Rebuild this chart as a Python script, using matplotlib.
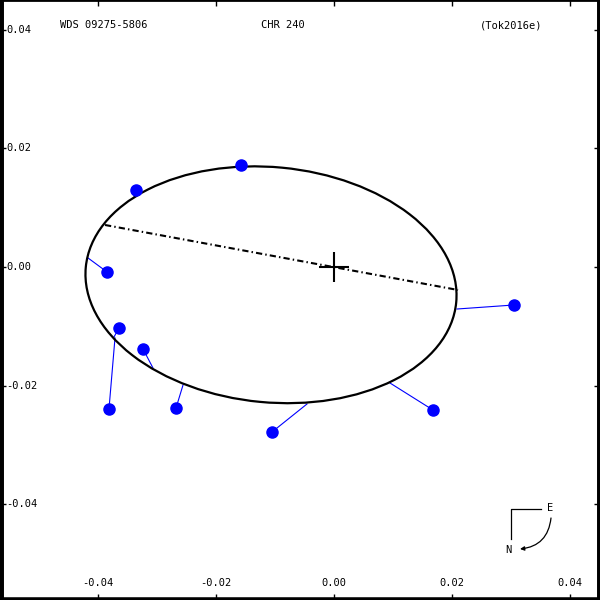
import numpy as np
import matplotlib
matplotlib.use('Agg')
from matplotlib import pyplot as plt
from matplotlib.patches import Ellipse

plt.rcParams['font.family'] = ['DejaVu Sans Mono']

# observed positions (blue dots)
obs_x = [-0.01576, -0.03356, -0.03847, -0.03644, -0.03814,
         -0.03237, -0.02678, -0.01051, 0.01678, 0.03051]
obs_y = [0.01722, 0.01300, -0.00084, -0.01030, -0.02397,
         -0.01384, -0.02380, -0.02785, -0.02414, -0.00641]
# predicted positions on the orbit (end of residual lines)
pred_x = [-0.01576, -0.03390, -0.04169, -0.03729, -0.03712,
          -0.03068, -0.02559, -0.00458, 0.00949, 0.02085]
pred_y = [0.01654, 0.01181, 0.00152, -0.01181, -0.01198,
          -0.01705, -0.01992, -0.02312, -0.01958, -0.00709]

# apparent orbit
orb_cx, orb_cy = -0.01068, -0.00300
orb_a, orb_b = 0.03153, 0.01985
orb_angle = -5.4

# line of nodes
node_x = [-0.03881, 0.02102]
node_y = [0.00709, -0.00388]

xticks = [-0.04, -0.02, 0.00, 0.02, 0.04]
yticks = [-0.04, -0.02, 0.00, 0.02, 0.04]

fig = plt.figure(figsize=(6, 6), dpi=100)
ax = fig.add_axes([0, 0, 1, 1])
ax.set_xlim(-0.05661, 0.04508)
ax.set_ylim(-0.05620, 0.04506)

for i in range(len(obs_x)):
    ax.plot([obs_x[i], pred_x[i]], [obs_y[i], pred_y[i]], color='#0000ff', lw=0.8, zorder=2)

ell = Ellipse((orb_cx, orb_cy), 2 * orb_a, 2 * orb_b, angle=orb_angle,
              fill=False, edgecolor='black', lw=1.6, zorder=3)
ax.add_patch(ell)

ax.plot(node_x, node_y, color='black', lw=1.5, linestyle=(0, (3, 1.5, 0.7, 1.5)), zorder=3)
ax.plot([0], [0], marker='+', ms=21, mew=1.5, color='black', zorder=4)
ax.plot(obs_x, obs_y, 'o', color='#0000ff', ms=8, zorder=5)

# ticks on all four sides, labels drawn inside
ax.set_xticks(xticks)
ax.set_yticks(yticks)
ax.tick_params(direction='in', length=4, width=1, top=True, right=True,
               labelleft=False, labelbottom=False)
for v in yticks:
    ax.text(0.01, v, '%.2f' % v, transform=ax.get_yaxis_transform(),
            ha='left', va='center', fontsize=7.5)
for v in xticks:
    ax.text(v, 0.02, '%.2f' % v, transform=ax.get_xaxis_transform(),
            ha='center', va='bottom', fontsize=7.5)

for side, w in [('left', 5), ('bottom', 4), ('right', 5), ('top', 2)]:
    ax.spines[side].set_linewidth(w)

# header texts
ax.text(60 / 600, 1 - 25 / 600, 'WDS 09275-5806', transform=ax.transAxes,
        ha='left', va='center', fontsize=7.5)
ax.text(261 / 600, 1 - 25 / 600, 'CHR 240', transform=ax.transAxes,
        ha='left', va='center', fontsize=7.5)
ax.text(480 / 600, 1 - 25 / 600, '(Tok2016e)', transform=ax.transAxes,
        ha='left', va='center', fontsize=7.5)

# compass
ax.plot([541 / 600, 511 / 600, 511 / 600], [1 - 509 / 600, 1 - 509 / 600, 1 - 539 / 600],
        color='black', lw=0.9, transform=ax.transAxes)
ax.text(550 / 600, 1 - 508 / 600, 'E', transform=ax.transAxes,
        ha='center', va='center', fontsize=7.5)
ax.text(508 / 600, 1 - 550 / 600, 'N', transform=ax.transAxes,
        ha='center', va='center', fontsize=7.5)
ax.annotate('', xy=(520 / 600, 1 - 549 / 600), xytext=(551 / 600, 1 - 518 / 600),
            xycoords='axes fraction', textcoords='axes fraction',
            arrowprops=dict(arrowstyle='-|>', color='black', lw=0.9,
                            connectionstyle='arc3,rad=-0.4', mutation_scale=6,
                            shrinkA=0, shrinkB=0))

fig.savefig('out.png', dpi=100)
